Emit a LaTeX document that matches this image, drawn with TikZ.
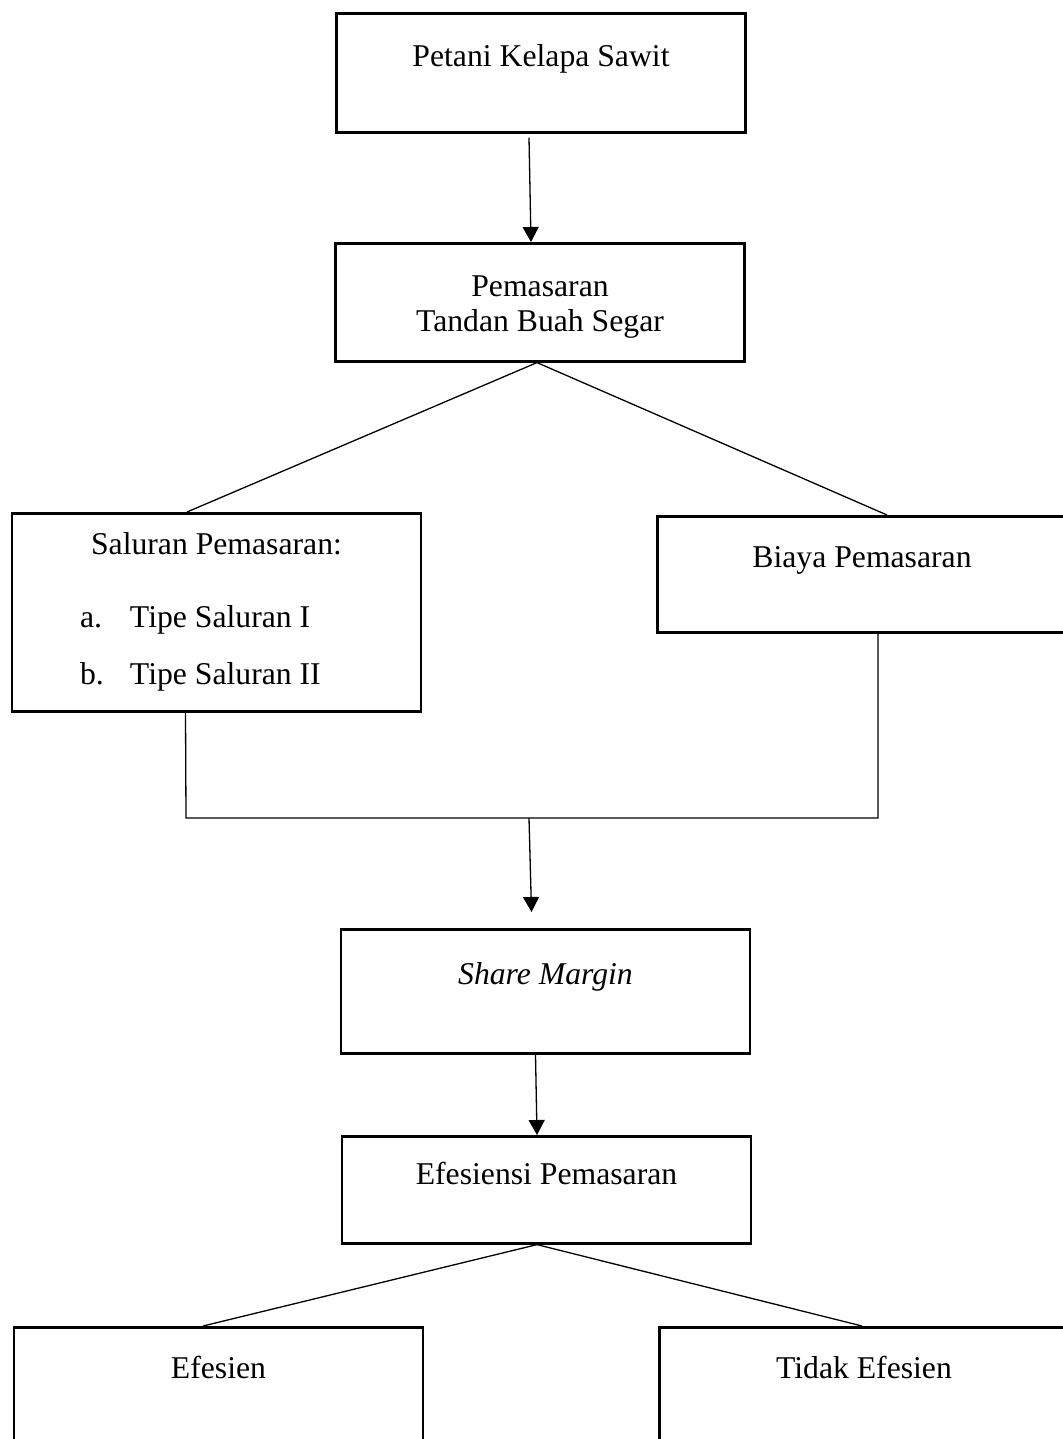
\documentclass[tikz,border=0pt]{standalone}
\usepackage{fontspec}
\setmainfont{Liberation Serif}
\usetikzlibrary{arrows.meta}

\begin{document}
\begin{tikzpicture}[x=1pt, y=-1pt, font=\fontsize{31.7}{35}\selectfont,
      kotak/.style={rectangle, draw, line width=2.6pt, minimum width=409pt,
                inner xsep=0pt, inner ysep=0pt, align=center, anchor=north},
      garis/.style={line width=1.3pt},
      panah/.style={garis, -{Triangle[length=15pt, width=16pt]}}]
    \useasboundingbox (0,0) rectangle (1062,1439);
    \node[kotak, text height=53pt, text depth=66pt] (petani) at (541,12) {Petani Kelapa Sawit};
    \node[kotak, text height=88pt, text depth=30pt] (tbs) at (540,242) {Pemasaran\\Tandan Buah Segar};
    \node[kotak, text width=409pt, align=left, text height=41pt, text depth=157pt] (saluran) at (216.5,512)
      {\spaceskip=0pt\xspaceskip=0pt
       \makebox[\linewidth]{Saluran Pemasaran:}\\[38pt]
       \hspace*{68pt}\makebox[50pt][l]{a.}Tipe Saluran I\\[22pt]
       \hspace*{68pt}\makebox[50pt][l]{b.}Tipe Saluran II};
    \node[kotak, text height=51pt, text depth=65pt] (biaya) at (862,515) {Biaya Pemasaran};
    \node[kotak, text height=55pt, text depth=69pt] (share) at (545.5,928) {\textit{Share Margin}};
    \node[kotak, text height=48pt, text depth=59pt] (efisiensi) at (546.5,1135) {Efesiensi Pemasaran};
    \node[kotak, text height=51pt, text depth=83pt] (efesien) at (218.5,1326) {Efesien};
    \node[kotak, text height=51pt, text depth=83pt] (tidak) at (864,1326) {Tidak Efesien};
    \coordinate (kiri) at (186,818);
    \coordinate (kanan) at (878,818);
    \coordinate (tengah) at (529,818);
    \draw[panah] ([xshift=-12pt,yshift=-4pt]petani.south) -- ([xshift=-9pt]tbs.north);
    \draw[garis] ([xshift=-3pt]tbs.south) -- ([xshift=-29.5pt]saluran.north);
    \draw[garis] ([xshift=-3pt]tbs.south) -- ([xshift=25pt]biaya.north);
    \draw[garis] ([xshift=-31pt]saluran.south) -- (kiri) -- (kanan) -- ([xshift=16pt]biaya.south);
    \draw[panah] (tengah) -- ([xshift=-14pt,yshift=16pt]share.north);
    \draw[panah] ([xshift=-10pt]share.south) -- ([xshift=-9.5pt]efisiensi.north);
    \draw[garis] ([xshift=-9.5pt]efisiensi.south) -- ([xshift=-15.5pt]efesien.north);
    \draw[garis] ([xshift=-9.5pt]efisiensi.south) -- ([xshift=-2pt]tidak.north);
  \end{tikzpicture}
\end{document}
